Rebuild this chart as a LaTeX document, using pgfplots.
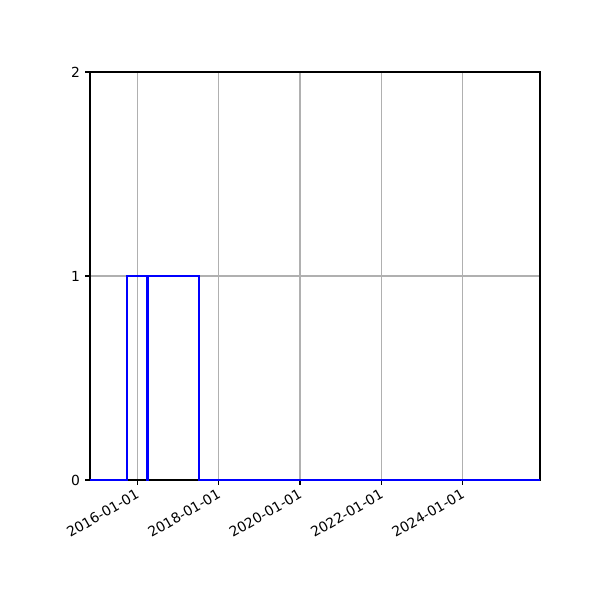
\documentclass[border=0pt]{standalone}
\usepackage{fontspec}
\setmainfont{DejaVu Sans}
\usepackage{pgfplots}
\pgfplotsset{compat=1.18}
\begin{document}
\begin{tikzpicture}
\begin{axis}[
  at={(0,0)}, anchor=south west,
  scale only axis, width=324pt, height=293.76pt,
  xmin=-425, xmax=3616, ymin=0, ymax=2,
  xtick={0,731,1461,2192,2922},
  xticklabels={2016-01-01,2018-01-01,2020-01-01,2022-01-01,2024-01-01},
  ytick={0,1,2},
  /pgf/number format/assume math mode=true,
  tick label style={font=\fontsize{10}{12}\selectfont, text=black},
  xticklabel style={rotate=30, anchor=north east, inner sep=0pt, yshift=-1.3pt, xshift=-2.6pt},
  yticklabel style={anchor=east, inner sep=0pt, xshift=-3.5pt},
  tick align=outside, major tick length=3.5pt,
  tick style={black, line width=0.8pt},
  xtick pos=bottom, ytick pos=left,
  grid=major, major grid style={color=black!31, line width=0.8pt},
  axis line style={line width=0.8pt},
  clip=true,
]
\addplot[const plot, color=blue, line width=1.5pt, line join=miter] coordinates {
  (-425,0) (-92,0) (-92,1) (86,1) (86,0) (94,0) (94,1) (551,1) (551,0) (3616,0)
};
\end{axis}
\path[use as bounding box] (-64.8pt,-86.4pt) rectangle (367.2pt,345.6pt);
\end{tikzpicture}
\end{document}
